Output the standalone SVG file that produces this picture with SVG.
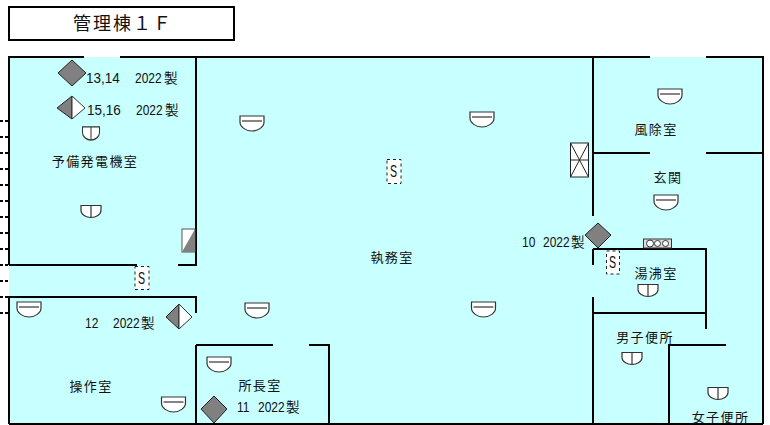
<svg xmlns="http://www.w3.org/2000/svg" width="770" height="425" viewBox="0 0 770 425">
<style>
.w{stroke:#000;stroke-width:2;fill:none}
.t{font-family:"Noto Sans CJK JP","Liberation Sans",sans-serif;font-size:13px;letter-spacing:1.4px;fill:#111;text-anchor:middle}
.n{font-family:"Liberation Sans",sans-serif;font-size:15px;fill:#111}
.k{font-family:"Noto Sans CJK JP",sans-serif;font-size:13.500px;fill:#111}
.c{font-family:"Liberation Sans",sans-serif;font-size:16px;fill:#111}
.g{fill:#808080;stroke:#222;stroke-width:1}
.l{fill:#fff;stroke:#333;stroke-width:1.2}
.s{fill:#fff;stroke:#222;stroke-width:1;stroke-dasharray:3 3}
.d{stroke:#000;stroke-width:2;stroke-dasharray:3 2}
</style>
<defs>
<g id="h"><path class="l" d="M-12 -7H12V-1C12 4 6 8 0 8C-6 8-12 4-12 -1Z"/><path d="M-10 -2H10" stroke="#333" stroke-width="1.2" fill="none"/></g>
<g id="v"><path class="l" d="M-10 -6H10V-1C10 3 5 6 0 6C-5 6-10 3-10 -1Z"/><path d="M0 -6V6" stroke="#333" stroke-width="1.2" fill="none"/></g>
</defs>
<rect width="770" height="425" fill="#fff"/>
<rect x="9" y="57" width="754" height="367" fill="#c8ffff"/>
<g id="header"><rect x="9" y="7" width="225" height="33" fill="#fff" stroke="#000" stroke-width="2"/><text x="73" y="30" font-family="Noto Sans CJK JP,sans-serif" font-size="18" letter-spacing="2" fill="#111">管理棟１Ｆ</text></g>
<g id="connectors">
<path class="w" d="M84 57H9V265M120 57H650M706 57H763V424M9 424H763"/>
<path class="w" d="M196 57V265H178M9 265H137M8 297H196V313"/>
<path class="w" d="M9 297V424M196 345V424M196 345H273M309 345H329V424"/>
<path class="w" d="M593 57V216M593 153H650M706 153H763M593 249V265M593 297V424M593 249H706V329M593 313H706"/>
<path class="w" d="M669 424V345H726"/>
<path class="d" d="M0 121H9M0 137H9M0 153H9M0 169H9M0 185H9M0 201H9M0 217H9M0 233H9M0 249H9M0 265H9M0 281H9M0 297H9M0 313H9"/>
</g>
<g id="ac">
<use href="#h" x="252" y="123"/><use href="#h" x="482" y="119"/><use href="#h" x="257" y="310"/><use href="#h" x="483.500" y="309"/>
<use href="#h" x="670" y="96"/><use href="#h" x="666" y="202"/><use href="#h" x="29" y="309"/><use href="#h" x="173.500" y="404"/><use href="#h" x="219" y="364"/>
<use href="#v" transform="translate(91 133.500) scale(.85 1.1)"/><use href="#v" x="91" y="211.500"/><use href="#v" x="648" y="290.500"/><use href="#v" x="632" y="358.500"/><use href="#v" x="718" y="393.500"/>
</g>
<g id="units">
<path class="g" d="M72 60L86 73L72 86L58 73Z"/>
<path class="g" d="M72 96L57 108L72 119Z"/><path class="l" d="M72 96L85 108L72 119Z" style="stroke-width:1"/>
<path class="g" d="M179 304L166 317L179 329Z"/><path class="l" d="M179 304L192 317L179 329Z" style="stroke-width:1"/>
<path class="g" d="M214 396L227 409L214 423L201 409Z"/>
<path class="g" d="M598 223L611 235L598 248L585 235Z"/>
</g>
<g id="equipment">
<rect x="182" y="229" width="13" height="23" fill="#fff" stroke="#555"/><path d="M195 229V252H182Z" fill="#808080"/>
<g fill="#fff" stroke="#222"><rect x="570.500" y="143" width="18" height="34"/><path d="M570.500 143L588.500 177M588.500 143L570.500 177M570.500 160H588.500" fill="none"/></g>
<rect x="643.500" y="239" width="28" height="9" fill="#ddd" stroke="#333"/>
<g fill="#fff" stroke="#333"><circle cx="650" cy="243.500" r="3.500"/><circle cx="657.500" cy="243.500" r="3"/><circle cx="665.500" cy="243.500" r="3"/></g>
</g>
<g id="sensors">
<rect class="s" x="387" y="159.500" width="14" height="24"/><text transform="translate(390 177) scale(.66 1)" class="c">S</text>
<rect class="s" x="135" y="266.500" width="14" height="23"/><text transform="translate(138 284) scale(.66 1)" class="c">S</text>
<rect class="s" x="606.500" y="251" width="13" height="23"/><text transform="translate(609 268) scale(.66 1)" class="c">S</text>
</g>
<g id="labels">
<text x="95" y="166" class="t">予備発電機室</text>
<text x="392" y="261.500" class="t">執務室</text>
<text x="91" y="390.500" class="t">操作室</text>
<text x="260" y="390" class="t">所長室</text>
<text x="656" y="134" class="t">風除室</text>
<text x="668" y="182" class="t">玄関</text>
<text x="656" y="278" class="t">湯沸室</text>
<text x="645" y="341.500" class="t">男子便所</text>
<text x="720.500" y="421.500" class="t">女子便所</text>
<g id="note13"><text transform="translate(86 83) scale(.9 1)" class="n">13,14</text><text transform="translate(135 83) scale(.8 1)" class="n">2022</text><text x="164" y="83" class="k">製</text></g>
<g id="note15"><text transform="translate(87 115) scale(.9 1)" class="n">15,16</text><text transform="translate(136 115) scale(.8 1)" class="n">2022</text><text x="165" y="115" class="k">製</text></g>
<g id="note12"><text transform="translate(85 328) scale(.8 1)" class="n">12</text><text transform="translate(113 328) scale(.8 1)" class="n">2022</text><text x="141" y="328" class="k">製</text></g>
<g id="note11"><text transform="translate(237 412) scale(.8 1)" class="n">11</text><text transform="translate(258 412) scale(.8 1)" class="n">2022</text><text x="286" y="412" class="k">製</text></g>
<g id="note10"><text transform="translate(522 247) scale(.8 1)" class="n">10</text><text transform="translate(543 247) scale(.8 1)" class="n">2022</text><text x="571" y="247" class="k">製</text></g>
</g>
</svg>
